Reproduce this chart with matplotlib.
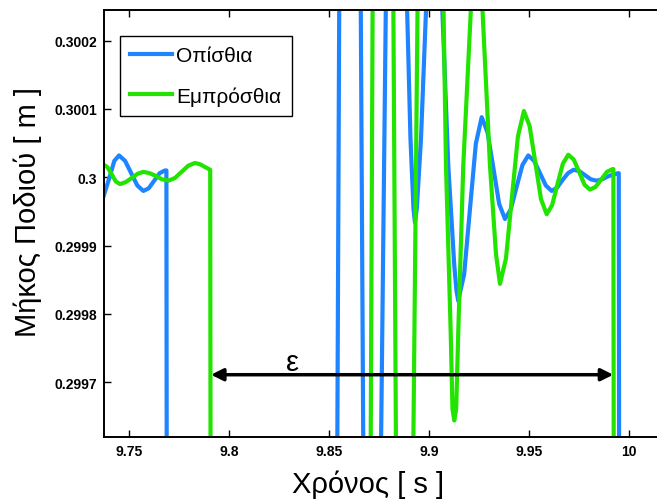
import matplotlib
matplotlib.use('Agg')
import matplotlib.pyplot as plt

plt.rcParams['font.family'] = ['Liberation Sans', 'DejaVu Sans']

# Οπίσθια (blue) - time [s], foot length [m]
t_back = [9.73687, 9.73990, 9.74250, 9.74485, 9.74790, 9.75095, 9.75400, 9.75705, 9.75975,
          9.76246, 9.76516, 9.76786, 9.76856, 9.76881,
          9.81140, 9.85405, 9.85505, 9.86036, 9.86576, 9.86706, 9.87141, 9.87591, 9.87841,
          9.88342, 9.88877, 9.89067, 9.89217, 9.89292, 9.89382, 9.89592, 9.89878, 9.90243,
          9.90628, 9.90958, 9.91258, 9.91368, 9.91458, 9.91568, 9.91751, 9.92044, 9.92336,
          9.92629, 9.92920, 9.93212, 9.93503, 9.93794, 9.94086, 9.94377, 9.94669,
          9.94960, 9.95253, 9.95546, 9.95838, 9.96131, 9.96404, 9.96676, 9.96949,
          9.97221, 9.97511, 9.97802, 9.98092, 9.98382, 9.98652, 9.98922, 9.99192,
          9.99462, 9.99487, 9.99517]
v_back = [0.299970, 0.299998, 0.300024, 0.300032, 0.300024, 0.300006, 0.299988, 0.299980, 0.299984,
          0.299995, 0.300006, 0.300010, 0.300010, 0.299300,
          0.299200, 0.299600, 0.300270, 0.300800, 0.300270, 0.299600, 0.299000, 0.299600, 0.300270,
          0.300600, 0.300270, 0.300056, 0.299954, 0.299934, 0.299954, 0.300056, 0.300270, 0.300600,
          0.300270, 0.300017, 0.299871, 0.299834, 0.299819, 0.299834, 0.299858, 0.299954, 0.300049,
          0.300088, 0.300066, 0.300014, 0.299961, 0.299939, 0.299953, 0.299986, 0.300018,
          0.300032, 0.300024, 0.300006, 0.299988, 0.299980, 0.299985, 0.299996, 0.300006,
          0.300011, 0.300009, 0.300003, 0.299997, 0.299995, 0.299997, 0.300001, 0.300004,
          0.300006, 0.300006, 0.299300]

# Εμπρόσθια (green)
t_front = [9.73684, 9.73900, 9.74110, 9.74320, 9.74535, 9.74826, 9.75118, 9.75409, 9.75700,
           9.76013, 9.76326, 9.76638, 9.76951, 9.77285, 9.77619, 9.77953, 9.78287, 9.78540,
           9.78790, 9.79047, 9.79077,
           9.83039, 9.87076, 9.87176, 9.87691, 9.88207, 9.88342, 9.88792,
           9.89207, 9.89427, 9.90043, 9.90708, 9.90843, 9.91078, 9.91168, 9.91258, 9.91353,
           9.91458, 9.91708, 9.92129, 9.92379, 9.92629, 9.93044, 9.93344, 9.93544, 9.93844,
           9.94143, 9.94443, 9.94742, 9.95027, 9.95312, 9.95596, 9.95881, 9.96151, 9.96421,
           9.96691, 9.96961, 9.97233, 9.97504, 9.97776, 9.98047, 9.98331, 9.98615, 9.98898,
           9.99182, 9.99217, 9.99247]
v_front = [0.300019, 0.300015, 0.300005, 0.299994, 0.299990, 0.299993, 0.299999, 0.300005, 0.300008,
           0.300006, 0.300002, 0.299997, 0.299995, 0.299999, 0.300008, 0.300017, 0.300021, 0.300019,
           0.300015, 0.300011, 0.299300,
           0.299200, 0.299600, 0.300270, 0.300800, 0.300270, 0.299600, 0.299200,
           0.299600, 0.300270, 0.300600, 0.300270, 0.300017, 0.299774, 0.299661, 0.299644, 0.299661,
           0.299774, 0.300017, 0.300270, 0.300400, 0.300270, 0.300017, 0.299888, 0.299844, 0.299881,
           0.299971, 0.300060, 0.300097, 0.300075, 0.300022, 0.299968, 0.299946, 0.299959, 0.299990,
           0.300020, 0.300033, 0.300026, 0.300008, 0.299989, 0.299982, 0.299986, 0.299997, 0.300008,
           0.300012, 0.300012, 0.299300]

xticks = [9.75, 9.8, 9.85, 9.9, 9.95, 10]
xtick_labels = ['9.75', '9.8', '9.85', '9.9', '9.95', '10']
yticks = [0.2997, 0.2998, 0.2999, 0.3, 0.3001, 0.3002]
ytick_labels = ['0.2997', '0.2998', '0.2999', '0.3', '0.3001', '0.3002']

fig = plt.figure(figsize=(6.57, 5.02), dpi=100)
ax = fig.add_axes([104 / 657, 1 - 438.3 / 502, 553 / 657, 427.8 / 502])

ax.plot(t_back, v_back, color='#1E84FF', lw=3.0, label='Οπίσθια', solid_joinstyle='round')
ax.plot(t_front, v_front, color='#22E400', lw=3.0, label='Εμπρόσθια', solid_joinstyle='round')

ax.set_xlim(9.73734, 10.014)
ax.set_ylim(0.2996194, 0.3002456)

ax.annotate('', xy=(9.79087, 0.299711), xytext=(9.99212, 0.299711),
            arrowprops=dict(arrowstyle='<|-|>', color='black', lw=2.5,
                            mutation_scale=18, shrinkA=0, shrinkB=0))
ax.text(9.83189, 0.299730, 'ε', fontsize=21, ha='center', va='center')

ax.set_xticks(xticks)
ax.set_xticklabels(xtick_labels, fontweight='bold', fontsize=10)
ax.set_yticks(yticks)
ax.set_yticklabels(ytick_labels, fontweight='bold', fontsize=10)
ax.tick_params(direction='in', length=5, width=1, top=True, right=False, pad=5)

for side in ['left', 'bottom', 'top']:
    ax.spines[side].set_linewidth(1.4)
ax.spines['right'].set_visible(False)

ax.set_xlabel('Χρόνος [ s ]', fontsize=21, va='center')
ax.set_ylabel('Μήκος Ποδιού [ m ]', fontsize=21, va='center')
ax.xaxis.set_label_coords(0.477, -0.109)
ax.yaxis.set_label_coords(-0.137, 0.53)

leg = ax.legend(loc='upper left', bbox_to_anchor=(0.029, 0.938), borderaxespad=0,
                fontsize=15, handlelength=2.0, labelspacing=1.0, fancybox=False,
                framealpha=1, edgecolor='black', borderpad=0.5, handletextpad=0.2)
leg.get_frame().set_linewidth(1.0)
for line in leg.get_lines():
    line.set_linewidth(3)

fig.savefig('out.png', dpi=100)
